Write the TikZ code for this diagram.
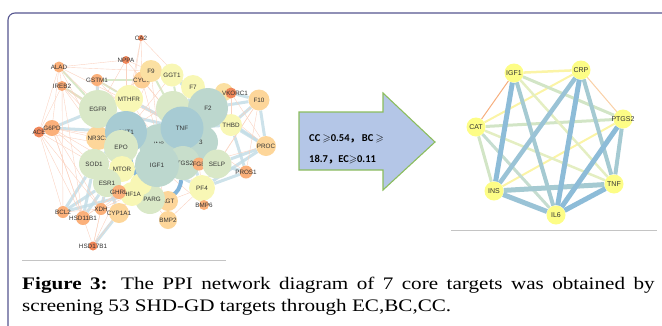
\documentclass[tikz,border=0pt]{standalone}
\usepackage{amssymb}
\usepackage{fontspec}
\setmainfont{Liberation Serif}
\newfontfamily\labfont{Liberation Sans}
\newfontfamily\boxfont{Carlito}
\newfontfamily\cjk{Noto Sans CJK SC}
\usetikzlibrary{backgrounds}

% node fills
\definecolor{teal}{HTML}{A7CBD3}
\definecolor{tealgreen}{HTML}{BCD7CE}
\definecolor{lgreen}{HTML}{D9E8C7}
\definecolor{pyellow}{HTML}{F8F7B5}
\definecolor{lorange}{HTML}{FDD69A}
\definecolor{orange}{HTML}{FBB07A}
\definecolor{redor}{HTML}{F0875A}
\definecolor{coreyel}{HTML}{FDFD86}
% edge colours
\definecolor{weakcol}{HTML}{FAD3C1}
\definecolor{strongcol}{HTML}{C4DDE6}
\definecolor{greencol}{HTML}{D8E9C9}
\definecolor{hubcol}{HTML}{82B4DA}
\definecolor{rblue}{HTML}{8DBCD8}
\definecolor{rblueb}{HTML}{9AC3D6}
\definecolor{rteal}{HTML}{A5CAD2}
\definecolor{rgteal}{HTML}{C6DDD0}
\definecolor{rlgreen}{HTML}{D2E5C6}
\definecolor{rygreen}{HTML}{E4EEC2}
\definecolor{ryellow}{HTML}{FBF4A6}
\definecolor{rorange}{HTML}{F6AE7E}
\definecolor{rlorange}{HTML}{F9D0A6}
% other
\definecolor{labcol}{HTML}{333333}
\definecolor{framecol}{HTML}{55558F}
\definecolor{sepcol}{HTML}{C4C4C4}
\definecolor{arrfill}{HTML}{B4C6E7}
\definecolor{arrline}{HTML}{8CBD5E}

\newcommand{\genefont}{\labfont\fontsize{6.3}{6.3}\selectfont}
\newcommand{\corefont}{\labfont\fontsize{7}{7}\selectfont}

\begin{document}
\begin{tikzpicture}[x=1pt, y=-1pt,
  gene/.style={circle, inner sep=0pt, minimum size=#1},
  core/.style={circle, inner sep=0pt, minimum size=19pt, fill=coreyel},
  weakedge/.style={draw=weakcol, line width=0.4pt},
  strongedge/.style={draw=strongcol, line width=3pt, opacity=0.85},
  greenedge/.style={draw=greencol, line width=2pt},
  hubedge/.style={draw=hubcol, line width=4pt},
  every label/.style={inner sep=0pt, text=labcol}]

\useasboundingbox (0,0) rectangle (662,325);

% frame and separators
\draw[framecol, line width=1.1pt, rounded corners=7pt] (8,340) -- (8,13) -- (680,13);
\draw[sepcol, line width=0.8pt] (22,260) -- (226,260);
\draw[sepcol, line width=0.8pt] (451,230) -- (657,230);

% ---- 53 targets (later nodes cover earlier ones)
\begin{scope}[every label/.append style={font=\genefont}]
\node[gene=6, fill=redor, label=center:CA2] (CA2) at (141,38) {};
\node[gene=8, fill=redor, label=center:NPPA] (NPPA) at (126,60) {};
\node[gene=11, fill=orange, label=center:ALAD] (ALAD) at (59,67) {};
\node[gene=10, fill=orange!80!redor, label=center:IREB2] (IREB2) at (62,86) {};
\node[gene=12, fill=orange, label=center:GSTM1] (GSTM1) at (97,80) {};
\node[gene=11, fill=redor, label=center:ACE] (ACE) at (39,132) {};
\node[gene=16, fill=orange, label=center:G6PD] (G6PD) at (52,128) {};
\node[gene=17, fill=lorange!80!orange, label=center:CYCS] (CYCS) at (142,80) {};
\node[gene=22, fill=lorange!70!pyellow, label=center:F9] (F9) at (151,71) {};
\node[gene=23, fill=pyellow, label=center:GGT1] (GGT1) at (172,75) {};
\node[gene=34, fill=lgreen] (h1) at (173,108) {};
\node[gene=24, fill=pyellow, label=center:F7] (F7) at (193,87) {};
\node[gene=18, fill=lorange!70!pyellow] (h2) at (224,92) {};
\node[gene=11, fill=redor, label={[xshift=4pt]center:VKORC1}] (VKORC1) at (231,93) {};
\node[gene=21, fill=lorange, label=center:F10] (F10) at (259,100) {};
\node[gene=22, fill=pyellow, label=center:THBD] (THBD) at (231,125) {};
\node[gene=40, fill=tealgreen, label=center:F2] (F2) at (208,108) {};
\node[gene=20, fill=lorange, label=center:PROC] (PROC) at (266,146) {};
\node[gene=13, fill=orange, label=center:PROS1] (PROS1) at (246,172) {};
\node[gene=24, fill=lorange, label=center:NR3C1] (NR3C1) at (98,138) {};
\node[gene=38, fill=lgreen, label=center:EGFR] (EGFR) at (98,109) {};
\node[gene=28, fill=pyellow, label=center:MTHFR] (MTHFR) at (129,99) {};
\node[gene=34, fill=tealgreen, label=center:3] (CASP3) at (201,142) {};
\node[gene=40, fill=tealgreen, label=center:INS] (INS) at (159,144) {};
\node[gene=42, fill=teal, label=center:AKT1] (AKT1) at (126,132) {};
\node[gene=34, fill=lgreen, label=center:EPO] (EPO) at (121,147) {};
\node[gene=43, fill=teal, label=center:TNF] (TNF) at (182,128) {};
\node[gene=26, fill=pyellow, label=center:MTOR] (MTOR) at (122,169) {};
\node[gene=30, fill=lgreen, label=center:SOD1] (SOD1) at (94,164) {};
\node[gene=28, fill=lgreen, label=center:ESR1] (ESR1) at (107,183) {};
\node[gene=12, fill=orange, label=center:BCL2] (BCL2) at (63,212) {};
\node[gene=14, fill=orange, label=center:HSD11B1] (HSD11B1) at (83,218) {};
\node[gene=12, fill=orange, label=center:XDH] (XDH) at (101,209) {};
\node[gene=9, fill=redor, label=center:HSD17B1] (HSD17B1) at (93,246) {};
\node[gene=20, fill=lorange, label=center:AGT] (AGT) at (168,201) {};
\node[gene=18, fill=lorange, label=center:BMP2] (BMP2) at (168,220) {};
\node[gene=30, fill=lgreen, label=center:PPARG] (PPARG) at (150,199) {};
\node[gene=22, fill=pyellow] (h3) at (141,184) {};
\node[gene=24, fill=pyellow, label=center:HIF1A] (HIF1A) at (132,194) {};
\node[gene=14, fill=orange, label=center:GHRL] (GHRL) at (119,192) {};
\node[gene=20, fill=lorange, label=center:CYP1A1] (CYP1A1) at (119,213) {};
\node[gene=34, fill=tealgreen!60!lgreen, label=center:PTGS2] (PTGS2) at (183,163) {};
\node[gene=44, fill=tealgreen, label=center:IGF1] (IGF1) at (157,165) {};
\node[gene=13, fill=orange, label=center:FGB] (FGB) at (199,164) {};
\node[gene=29, fill=lgreen, label=center:SELP] (SELP) at (217,164) {};
\node[gene=26, fill=pyellow, label=center:PF4] (PF4) at (202,188) {};
\node[gene=10, fill=orange, label=center:BMP6] (BMP6) at (204,205) {};
\end{scope}

\begin{pgfonlayer}{background}
\foreach \a/\b in {G6PD/EGFR, G6PD/AKT1, ACE/G6PD, GSTM1/EGFR, BCL2/ESR1, BCL2/SOD1,
  HSD11B1/ESR1, HSD11B1/SOD1, HSD17B1/CYP1A1, XDH/ESR1, CYP1A1/ESR1, F10/F2, F10/THBD,
  PROC/THBD, PROC/F2, PROC/SELP, PROC/PF4, PROS1/THBD, PROS1/SELP, PF4/SELP, F7/TNF,
  F2/TNF, SELP/TNF, PF4/TNF, VKORC1/F10, VKORC1/F2, SELP/IGF1, PF4/IGF1, EGFR/AKT1,
  MTHFR/TNF, ESR1/IGF1, SOD1/AKT1, EPO/TNF, EGFR/TNF, F10/PROC, GGT1/F2, F7/F2, THBD/TNF,
  PROS1/PF4, BCL2/HIF1A}
  \draw[strongedge] (\a) -- (\b);
\foreach \a/\b in {GSTM1/CYCS, ALAD/EGFR, CYCS/MTHFR, F9/F7, F9/TNF, GGT1/TNF,
  EGFR/MTHFR, GSTM1/MTHFR, IREB2/EGFR, GGT1/F7}
  \draw[greenedge] (\a) -- (\b);
\foreach \a/\b in {CA2/MTHFR, CA2/F2, CA2/AKT1, CA2/CYCS, NPPA/TNF, NPPA/EGFR, NPPA/F9,
  NPPA/AKT1, NPPA/ALAD, ALAD/IREB2, ALAD/ACE, ALAD/F9, ALAD/AKT1, ALAD/NR3C1, ALAD/TNF,
  ALAD/G6PD, IREB2/ACE, IREB2/AKT1, IREB2/EPO, IREB2/BCL2, IREB2/HSD11B1, IREB2/MTOR,
  IREB2/INS, GSTM1/TNF, GSTM1/INS, GSTM1/NR3C1, ACE/BCL2, ACE/HSD11B1, ACE/EPO, ACE/SOD1,
  ACE/XDH, G6PD/SOD1, G6PD/XDH, G6PD/HSD17B1, G6PD/HSD11B1, G6PD/INS, G6PD/MTOR,
  G6PD/NR3C1, XDH/CYP1A1, XDH/HIF1A, XDH/IGF1, XDH/PPARG, HSD17B1/XDH, HSD17B1/ESR1,
  HSD17B1/GHRL, HSD17B1/HIF1A, HSD11B1/IGF1, HSD11B1/GHRL, BCL2/XDH, BMP6/PF4, BMP6/IGF1,
  BMP6/PTGS2, BMP2/IGF1, BMP2/PPARG, BMP2/PF4, PROS1/F10, THBD/F10, F10/SELP, PROC/F7,
  CYCS/TNF, F9/INS, F9/AKT1, F7/AKT1, F2/INS, VKORC1/PROC, VKORC1/THBD, VKORC1/TNF,
  F10/PF4, PROC/FGB, PROS1/TNF, MTHFR/INS, MTHFR/EPO, NR3C1/MTOR, EGFR/INS, F7/INS,
  GGT1/AKT1, CYCS/INS, F9/EGFR, CYP1A1/IGF1, GHRL/PPARG, FGB/PF4, AGT/PF4}
  \draw[weakedge] (\a) -- (\b);
\foreach \a/\b in {AKT1/INS, INS/IGF1, TNF/INS, IGF1/PPARG}
  \draw[hubedge, opacity=0.8] (\a) -- (\b);
\draw[hubedge] (AKT1) .. controls (136,200) and (178,210) .. (PTGS2);
\end{pgfonlayer}

% ---- screening arrow
\draw[fill=arrfill, draw=arrline, line width=1.1pt]
  (299,112) -- (383,112) -- (383,93) -- (435,142) -- (383,190) -- (383,170) -- (299,170) -- cycle;
\node[anchor=base west, inner sep=0pt, font=\boxfont\bfseries\fontsize{10.5}{11}\selectfont]
  (critA) at (309,141) {CC $\geqslant$0.54{\cjk ，}\,BC $\geqslant$};
\node[anchor=base west, inner sep=0pt, font=\boxfont\bfseries\fontsize{10.5}{11}\selectfont]
  (critB) at (309,162) {18.7{\cjk ，}EC$\geqslant$0.11};

% ---- 7 core targets
\begin{scope}[every label/.append style={font=\corefont}]
\node[core, label=center:IGF1] (cIGF1) at (514,73) {};
\node[core, label=center:CRP] (cCRP) at (581,70) {};
\node[core, label=center:PTGS2] (cPTGS2) at (623,119) {};
\node[core, label=center:TNF] (cTNF) at (614,184) {};
\node[core, label=center:IL6] (cIL6) at (556,215) {};
\node[core, label=center:INS] (cINS) at (494,191) {};
\node[core, label=center:CAT] (cCAT) at (476,127) {};
\end{scope}

\begin{pgfonlayer}{background}
\foreach \a/\b/\c/\w in {cIGF1/cCAT/rorange/1, cCRP/cPTGS2/rlorange/1,
  cIGF1/cCRP/ryellow/2.5, cCRP/cCAT/ryellow/2, cPTGS2/cINS/ryellow/2,
  cIGF1/cPTGS2/rlgreen/3, cCAT/cPTGS2/rlgreen/3, cCAT/cINS/rlgreen/3,
  cIGF1/cTNF/rygreen/2.5, cCAT/cTNF/rygreen/2.5, cCAT/cIL6/rgteal/3,
  cIGF1/cIL6/rteal/4, cCRP/cTNF/rteal/4, cPTGS2/cTNF/rteal/4, cINS/cTNF/rteal/5,
  cIGF1/cINS/rblue/5, cCRP/cINS/rblueb/4.5, cCRP/cIL6/rblue/5,
  cPTGS2/cIL6/rblue/5, cINS/cIL6/rblueb/5, cIL6/cTNF/rblue/5}
  \draw[draw=\c, line width=\w pt] (\a) -- (\b);
\end{pgfonlayer}

% ---- caption
\node[anchor=base west, inner sep=0pt, xscale=1.2, font=\fontsize{17.6}{22}\selectfont]
  (capA) at (22,289) {\makebox[527pt][s]{\textbf{Figure 3:} The PPI network diagram of 7 core targets was obtained by}};
\node[anchor=base west, inner sep=0pt, xscale=1.2, font=\fontsize{17.6}{22}\selectfont]
  (capB) at (22,311) {screening 53 SHD-GD targets through EC,BC,CC.};

\end{tikzpicture}
\end{document}
